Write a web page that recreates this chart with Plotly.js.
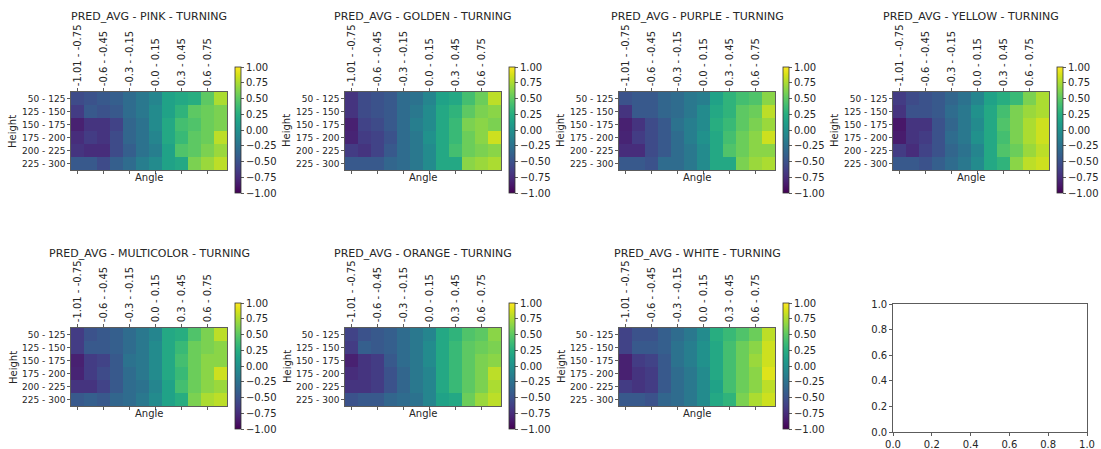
<!DOCTYPE html>
<html>
<head>
<meta charset="utf-8">
<script src="https://cdn.plot.ly/plotly-3.0.1.min.js"></script>
<style>html,body{margin:0;padding:0;background:#fff;}#chart{width:1101px;height:449px;}</style>
</head>
<body>
<div id="chart"></div>
<script>
// ---- data ----
const heights = ["50 - 125", "125 - 150", "150 - 175", "175 - 200", "200 - 225", "225 - 300"];
const angles = ["-1.01 - -0.75", "-0.75 - -0.6", "-0.6 - -0.45", "-0.45 - -0.3", "-0.3 - -0.15", "-0.15 - 0.0",
                "0.0 - 0.15", "0.15 - 0.3", "0.3 - 0.45", "0.45 - 0.6", "0.6 - 0.75", "0.75 - 1.01"];
const angleTicks = ["-1.01 - -0.75", "-0.6 - -0.45", "-0.3 - -0.15", "0.0 - 0.15", "0.3 - 0.45", "0.6 - 0.75"];
const colorTicks = [-1, -0.75, -0.5, -0.25, 0, 0.25, 0.5, 0.75, 1];
const colorNames = ["PINK", "GOLDEN", "PURPLE", "YELLOW", "MULTICOLOR", "ORANGE", "WHITE"];

const pink = [
  [-0.55, -0.5, -0.45, -0.4, -0.3, -0.2, -0.1, 0.15, 0.2, 0.25, 0.5, 0.75],
  [-0.65, -0.45, -0.5, -0.45, -0.3, -0.2, -0.05, 0.15, 0.3, 0.5, 0.55, 0.6],
  [-0.82, -0.7, -0.7, -0.6, -0.35, -0.25, -0.05, 0.2, 0.4, 0.45, 0.55, 0.6],
  [-0.75, -0.65, -0.7, -0.55, -0.35, -0.25, -0.1, 0.2, 0.35, 0.5, 0.55, 0.8],
  [-0.7, -0.75, -0.75, -0.55, -0.4, -0.25, -0.15, 0.15, 0.45, 0.5, 0.6, 0.7],
  [-0.45, -0.45, -0.55, -0.4, -0.3, -0.15, -0.05, 0.15, 0.2, 0.6, 0.7, 0.8]
];
const golden = [
  [-0.7, -0.55, -0.5, -0.45, -0.3, -0.25, -0.1, 0.15, 0.2, 0.4, 0.55, 0.8],
  [-0.7, -0.55, -0.5, -0.45, -0.3, -0.2, -0.05, 0.2, 0.3, 0.5, 0.6, 0.65],
  [-0.82, -0.6, -0.55, -0.45, -0.3, -0.15, -0.05, 0.2, 0.35, 0.6, 0.65, 0.6],
  [-0.8, -0.65, -0.6, -0.5, -0.3, -0.2, 0.0, 0.2, 0.35, 0.55, 0.65, 0.85],
  [-0.65, -0.7, -0.6, -0.45, -0.3, -0.2, -0.05, 0.2, 0.4, 0.55, 0.6, 0.65],
  [-0.45, -0.45, -0.45, -0.35, -0.3, -0.2, -0.05, 0.2, 0.2, 0.65, 0.7, 0.75]
];
const purple = [
  [-0.5, -0.45, -0.45, -0.35, -0.3, -0.2, -0.15, 0.15, 0.3, 0.4, 0.45, 0.65],
  [-0.7, -0.45, -0.45, -0.35, -0.3, -0.2, -0.05, 0.2, 0.3, 0.5, 0.55, 0.8],
  [-0.82, -0.7, -0.55, -0.45, -0.25, -0.15, -0.05, 0.25, 0.35, 0.5, 0.6, 0.7],
  [-0.8, -0.65, -0.55, -0.45, -0.3, -0.15, 0.0, 0.2, 0.4, 0.55, 0.65, 0.85],
  [-0.75, -0.75, -0.55, -0.45, -0.3, -0.2, -0.05, 0.2, 0.45, 0.55, 0.65, 0.65],
  [-0.45, -0.45, -0.5, -0.3, -0.3, -0.2, -0.05, 0.2, 0.2, 0.6, 0.7, 0.75]
];
const yellow = [
  [-0.65, -0.55, -0.5, -0.45, -0.35, -0.25, -0.1, 0.15, 0.25, 0.35, 0.6, 0.75],
  [-0.7, -0.5, -0.5, -0.45, -0.3, -0.2, 0.0, 0.2, 0.4, 0.6, 0.7, 0.75],
  [-0.88, -0.7, -0.7, -0.5, -0.35, -0.2, -0.05, 0.2, 0.45, 0.6, 0.75, 0.85],
  [-0.85, -0.7, -0.65, -0.5, -0.3, -0.2, 0.0, 0.2, 0.4, 0.6, 0.75, 0.85],
  [-0.65, -0.75, -0.6, -0.5, -0.35, -0.25, -0.1, 0.2, 0.45, 0.55, 0.7, 0.8],
  [-0.45, -0.45, -0.5, -0.4, -0.3, -0.2, -0.05, 0.2, 0.3, 0.65, 0.8, 0.85]
];
const multicolor = [
  [-0.65, -0.5, -0.45, -0.4, -0.3, -0.2, -0.1, 0.2, 0.25, 0.45, 0.6, 0.8],
  [-0.65, -0.45, -0.45, -0.4, -0.3, -0.2, -0.05, 0.2, 0.35, 0.55, 0.6, 0.65],
  [-0.82, -0.65, -0.6, -0.45, -0.25, -0.2, -0.05, 0.2, 0.4, 0.55, 0.65, 0.65],
  [-0.8, -0.65, -0.55, -0.45, -0.3, -0.2, -0.05, 0.2, 0.35, 0.55, 0.65, 0.85],
  [-0.7, -0.7, -0.6, -0.45, -0.3, -0.25, -0.1, 0.15, 0.4, 0.55, 0.65, 0.7],
  [-0.45, -0.4, -0.45, -0.35, -0.3, -0.2, -0.05, 0.15, 0.25, 0.6, 0.75, 0.8]
];
const orange = [
  [-0.6, -0.5, -0.45, -0.4, -0.3, -0.2, -0.1, 0.2, 0.3, 0.45, 0.5, 0.65],
  [-0.65, -0.4, -0.45, -0.4, -0.3, -0.2, -0.05, 0.2, 0.35, 0.5, 0.55, 0.6],
  [-0.82, -0.7, -0.65, -0.45, -0.3, -0.2, -0.05, 0.2, 0.35, 0.5, 0.6, 0.65],
  [-0.75, -0.7, -0.65, -0.5, -0.35, -0.2, -0.1, 0.2, 0.35, 0.5, 0.6, 0.8],
  [-0.7, -0.7, -0.65, -0.5, -0.35, -0.2, -0.1, 0.2, 0.35, 0.5, 0.6, 0.75],
  [-0.5, -0.45, -0.45, -0.35, -0.3, -0.25, -0.1, 0.15, 0.2, 0.55, 0.7, 0.8]
];
const white = [
  [-0.6, -0.5, -0.5, -0.4, -0.3, -0.2, -0.05, 0.25, 0.35, 0.45, 0.55, 0.8],
  [-0.6, -0.45, -0.45, -0.4, -0.25, -0.15, 0.0, 0.2, 0.4, 0.55, 0.65, 0.85],
  [-0.82, -0.65, -0.6, -0.45, -0.25, -0.15, 0.0, 0.2, 0.4, 0.55, 0.7, 0.85],
  [-0.82, -0.7, -0.65, -0.45, -0.3, -0.2, -0.05, 0.2, 0.4, 0.55, 0.65, 0.9],
  [-0.65, -0.7, -0.65, -0.45, -0.3, -0.2, -0.05, 0.15, 0.4, 0.55, 0.65, 0.8],
  [-0.45, -0.45, -0.5, -0.35, -0.3, -0.2, -0.05, 0.2, 0.3, 0.6, 0.75, 0.85]
];
const emptyTicks = [0, 0.2, 0.4, 0.6, 0.8, 1.0];

// ---- layout geometry (pixels) ----
const W = 1101, H = 449;
const zs = [pink, golden, purple, yellow, multicolor, orange, white];
const FONT = "DejaVu Sans, sans-serif";
const TXT = "#262626";
const px = v => v / W;
const py = v => 1 - v / H;

const data = [];
const layout = {
  width: W, height: H,
  margin: {l: 0, r: 0, t: 0, b: 0},
  paper_bgcolor: "#fff", plot_bgcolor: "#fff",
  showlegend: false,
  font: {family: FONT, color: TXT, size: 10},
  annotations: []
};

for (let i = 0; i < 7; i++) {
  const c = i % 4, r = Math.floor(i / 4);
  const left = 71 + 274 * c, right = left + 156;
  const top = 92 + 236 * r, bottom = top + 78;
  const n = i + 1;
  const xk = "xaxis" + (n === 1 ? "" : n), yk = "yaxis" + (n === 1 ? "" : n);
  const xr = "x" + (n === 1 ? "" : n), yr = "y" + (n === 1 ? "" : n);
  const cbTop = 67 + 236 * r, cbBot = cbTop + 126;
  data.push({
    type: "heatmap", x: angles, y: heights, z: zs[i],
    xaxis: xr, yaxis: yr,
    colorscale: "Viridis", zmin: -1, zmax: 1,
    xgap: 0, ygap: 0, hoverinfo: "skip",
    colorbar: {
      x: px(235 + 274 * c), xanchor: "left", xpad: 0, ypad: 0,
      y: py((cbTop + cbBot) / 2), yanchor: "middle",
      len: cbBot - cbTop, lenmode: "pixels",
      thickness: 6, thicknessmode: "pixels",
      outlinewidth: 0.8, outlinecolor: "#333",
      tickmode: "array", tickvals: colorTicks,
      ticktext: colorTicks.map(v => (v < 0 ? "\u2212" : "") + Math.abs(v).toFixed(2)),
      ticks: "outside", ticklen: 3, tickwidth: 0.8, tickcolor: "#333",
      tickfont: {family: FONT, size: 10, color: TXT}
    }
  });
  layout[xk] = {
    domain: [px(left), px(right)], anchor: yr, side: "top",
    type: "category", tickmode: "array", tickvals: angleTicks, ticktext: angleTicks,
    tickangle: -90, ticks: "outside", ticklen: 3, tickwidth: 0.8, tickcolor: "#333",
    showline: true, linecolor: "#333", linewidth: 0.8, mirror: "ticks",
    showgrid: false, zeroline: false, fixedrange: true,
    tickfont: {family: FONT, size: 10, color: TXT}
  };
  layout[yk] = {
    domain: [py(bottom), py(top)], anchor: xr,
    type: "category", autorange: "reversed",
    ticks: "outside", ticklen: 3, tickwidth: 0.8, tickcolor: "#333",
    showline: true, linecolor: "#333", linewidth: 0.8, mirror: true,
    showgrid: false, zeroline: false, fixedrange: true,
    tickfont: {family: FONT, size: 9, color: TXT}
  };
  layout.annotations.push({
    text: "PRED_AVG - " + colorNames[i] + " - TURNING", xref: "paper", yref: "paper",
    x: px((left + right) / 2), y: py(17 + 236 * r), xanchor: "center", yanchor: "middle",
    showarrow: false, font: {family: FONT, size: 11, color: TXT}
  });
  layout.annotations.push({
    text: "Angle", xref: "paper", yref: "paper",
    x: px((left + right) / 2), y: py(bottom + 7), xanchor: "center", yanchor: "middle",
    showarrow: false, font: {family: FONT, size: 10, color: TXT}
  });
  layout.annotations.push({
    text: "Height", xref: "paper", yref: "paper", textangle: -90,
    x: px(left - 58), y: py((top + bottom) / 2), xanchor: "center", yanchor: "middle",
    showarrow: false, font: {family: FONT, size: 10, color: TXT}
  });
}

// empty 8th axes
data.push({type: "scatter", x: [], y: [], xaxis: "x8", yaxis: "y8", hoverinfo: "skip"});
layout.xaxis8 = {
  domain: [px(893), px(1087)], anchor: "y8", range: [0, 1],
  tickmode: "array", tickvals: emptyTicks, ticktext: emptyTicks.map(v => v.toFixed(1)),
  ticks: "outside", ticklen: 3, tickwidth: 0.8, tickcolor: "#333",
  showline: true, linecolor: "#333", linewidth: 0.8, mirror: true,
  showgrid: false, zeroline: false, fixedrange: true,
  tickfont: {family: FONT, size: 10, color: TXT}
};
layout.yaxis8 = {
  domain: [py(432), py(304)], anchor: "x8", range: [0, 1],
  tickmode: "array", tickvals: emptyTicks, ticktext: emptyTicks.map(v => v.toFixed(1)),
  ticks: "outside", ticklen: 3, tickwidth: 0.8, tickcolor: "#333",
  showline: true, linecolor: "#333", linewidth: 0.8, mirror: true,
  showgrid: false, zeroline: false, fixedrange: true,
  tickfont: {family: FONT, size: 10, color: TXT}
};

Plotly.newPlot("chart", data, layout, {displayModeBar: false, staticPlot: true});
</script>
</body>
</html>
